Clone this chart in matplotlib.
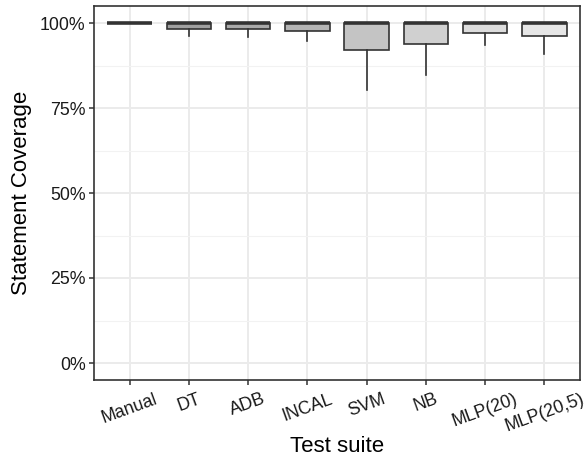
import numpy as np
import matplotlib.pyplot as plt
from matplotlib.ticker import MultipleLocator, FuncFormatter

plt.rcParams['font.family'] = ['Liberation Sans', 'DejaVu Sans']

# box statistics (percent)
suites = ["Manual", "DT", "ADB", "INCAL", "SVM", "NB", "MLP(20)", "MLP(20,5)"]
q3 = [100, 100, 100, 100, 100, 100, 100, 100]
med = [100, 100, 100, 100, 100, 100, 100, 100]
q1 = [100, 98.2, 98.1, 97.7, 92.0, 93.8, 97.2, 96.2]
whis_lo = [100, 96.1, 96.0, 94.7, 80.2, 84.7, 93.6, 91.0]
whis_hi = [100, 100, 100, 100, 100, 100, 100, 100]
fills = ["#959595", "#a0a0a0", "#aaaaaa", "#b4b4b4", "#c4c4c4", "#d0d0d0", "#dcdcdc", "#e6e6e6"]

stats = []
for i, name in enumerate(suites):
    stats.append({"label": name, "med": med[i], "q1": q1[i], "q3": q3[i],
                  "whislo": whis_lo[i], "whishi": whis_hi[i], "fliers": []})

fig = plt.figure(figsize=(5.84, 4.59), dpi=100)
ax = fig.add_axes([94/584, 1 - 380/459, 486/584, 374/459])

edge = "#333333"
pos = np.arange(1, len(suites) + 1)
bp = ax.bxp(stats, positions=pos, widths=0.75, patch_artist=True, showcaps=False,
            boxprops=dict(edgecolor=edge, linewidth=1.2),
            whiskerprops=dict(color=edge, linewidth=1.2),
            medianprops=dict(color=edge, linewidth=2.6, solid_capstyle='butt'),
            zorder=3)
for patch, c in zip(bp["boxes"], fills):
    patch.set_facecolor(c)

ax.set_xlim(0.4, len(suites) + 0.6)
ax.set_ylim(-5, 105)
ax.yaxis.set_major_locator(MultipleLocator(25))
ax.yaxis.set_minor_locator(MultipleLocator(12.5))
ax.yaxis.set_major_formatter(FuncFormatter(lambda v, p: f"{v:.0f}%"))
ax.set_xticks(pos)
ax.set_xticklabels(suites, rotation=20, ha='center')

ax.grid(which='major', color='#ebebeb', linewidth=1.4, zorder=0)
ax.grid(which='minor', axis='y', color='#f2f2f2', linewidth=0.8, zorder=0)
ax.set_axisbelow(True)
for s in ax.spines.values():
    s.set_color(edge)
    s.set_linewidth(1.2)
ax.tick_params(which='major', length=3.5, width=1.1, color=edge, labelsize=12.8,
               labelcolor='#1a1a1a', pad=2.5)
ax.tick_params(axis='x', pad=4)
ax.tick_params(which='minor', length=0)

ax.set_xlabel("Test suite", fontsize=16, labelpad=1)
ax.set_ylabel("Statement Coverage", fontsize=16, labelpad=6)

fig.savefig("out.png", dpi=100)
